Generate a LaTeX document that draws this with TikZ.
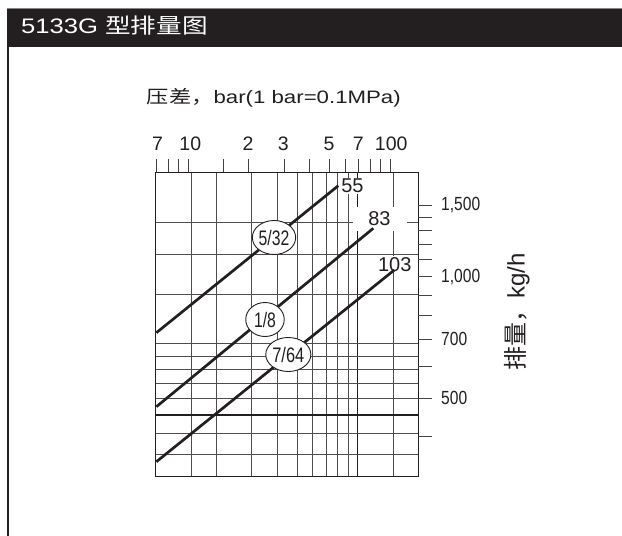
\documentclass[tikz,border=0pt]{standalone}
\usepackage{fontspec}
\usepackage{graphicx}
\setmainfont{Liberation Sans}
\newfontfamily\cjk{Noto Sans CJK SC}
\usetikzlibrary{shapes.geometric}
\definecolor{ink}{HTML}{231F20}
\begin{document}
\begin{tikzpicture}[x=1pt,y=-1pt,
  gline/.style={draw=ink!80, line width=0.9pt},
  gthick/.style={draw=ink, line width=1.25pt},
  tk/.style={draw=ink!85, line width=0.9pt},
  flow/.style={draw=ink, line width=2.7pt},
  toplab/.style={font=\fontsize{19.5}{19.5}\selectfont, text=ink, inner sep=0pt},
  rightlab/.style={font=\fontsize{19}{19}\selectfont, text=ink, inner sep=0pt, anchor=west},
  curvelab/.style={font=\fontsize{20}{20}\selectfont, text=ink, fill=white, inner sep=1.5pt},
  orifice/.style={ellipse, draw=ink, fill=white, line width=0.9pt, minimum width=38.5pt, minimum height=34pt, inner sep=0pt, font=\fontsize{21}{21}\selectfont, text=ink}]
\useasboundingbox (0,0) rectangle (622,536);
% header
\fill[ink] (7.3,8.3) rectangle (622,46.7);
\draw[ink!55, line width=0.8pt] (7.3,8.2) -- (622,8.2);
\draw[ink, line width=2pt] (8.3,46) -- (8.3,536);
\node[anchor=base west, inner sep=0pt, text=white, font=\fontsize{21}{21}\selectfont] (hdr) at (21,33.3) {\scalebox{1.22}[1]{5133G {\cjk 型排量图}}};
% title
\node[anchor=base west, inner sep=0pt, text=ink, font=\fontsize{18}{18}\selectfont] (title) at (146.7,103.3) {\scalebox{1.235}[1]{{\cjk 压差，}bar(1 bar=0.1MPa)}};
% vertical grid
\foreach \x in {191.7,216.7,251.7,277.7,297.3,312.7,326.7,337.7,348.3,393.3}
  \draw[gline] (\x,172.3) -- (\x,476.7);
\draw[gthick] (357.7,172.3) -- (357.7,476.7);
% horizontal grid
\foreach \y in {222.7,254.3,294,343.3,356,369.3,383.3,398.3,433.3,454}
  \draw[gline] (155.7,\y) -- (418.3,\y);
\draw[gthick] (155.7,415) -- (418.3,415);
% frame
\draw[ink, line width=1.5pt] (155.7,172.3) rectangle (418.3,476.7);
% top ticks
\foreach \x in {168.4,178.8,188,223.6,248.8,284.4,309.6,329.2,345.2,358.7,370.4,380.7,390}
  \draw[tk] (\x,159.3) -- (\x,172.3);
\draw[tk] (156.2,159.3) -- (156.2,172.3);
\node[toplab] (t7a) at (157.5,143.8) {7};
\node[toplab] (t10) at (190.3,143.8) {10};
\node[toplab] (t2) at (248,143.8) {2};
\node[toplab] (t3) at (283.3,143.8) {3};
\node[toplab] (t5) at (329,143.8) {5};
\node[toplab] (t7b) at (358.3,143.8) {7};
\node[toplab] (t100) at (391.2,143.8) {100};
% right ticks
\foreach \y in {205,217.3,230,244,259.3,276.7,295,315.7,339.3,366,398.3,436.7}
  \draw[tk] (418.3,\y) -- (431.7,\y);
\node[rightlab] (r1500) at (441,205) {\scalebox{0.82}[1]{1,500}};
\node[rightlab] (r1000) at (441,276.7) {\scalebox{0.82}[1]{1,000}};
\node[rightlab] (r700) at (441,339.3) {\scalebox{0.82}[1]{700}};
\node[rightlab] (r500) at (441,398.3) {\scalebox{0.82}[1]{500}};
\node[rotate=90, inner sep=0pt, text=ink, font=\fontsize{24}{24}\selectfont] (ylab) at (517,311.7) {{\cjk 排量，}kg/h};
% curve labels
\node[curvelab] (l55) at (352.5,186) {55};
\node[curvelab, minimum width=54pt, minimum height=24pt, inner sep=0pt] (l83) at (379.5,218.5) {83};
\node[curvelab, inner sep=1pt] (l103) at (394.7,264.2) {103};
% curves
\coordinate (s55) at (156.4,332.7);
\coordinate (e55) at (338.3,185.7);
\coordinate (s83) at (156.4,406.7);
\coordinate (e83) at (373.3,228.3);
\coordinate (s103) at (156.4,461.7);
\coordinate (e103) at (394.3,270);
\draw[flow] (s55) -- (e55);
\draw[flow] (s83) -- (e83);
\draw[flow] (s103) -- (e103);
% orifice sizes
\node[orifice] (o532) at (274,237.5) {\scalebox{0.75}[1]{5/32}};
\node[orifice] (o18) at (265,319.5) {\scalebox{0.75}[1]{1/8}};
\node[orifice] (o764) at (288.3,354.5) {\scalebox{0.78}[1]{7/64}};
\end{tikzpicture}
\end{document}
